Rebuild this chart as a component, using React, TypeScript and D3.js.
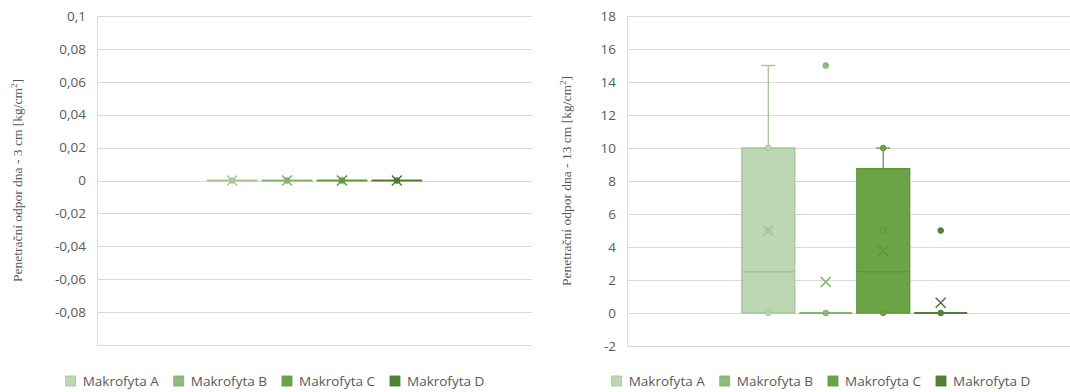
import React, { useEffect, useRef } from "react";
import * as d3 from "d3";

const categories = ["Makrofyta A", "Makrofyta B", "Makrofyta C", "Makrofyta D"];
const fills = ["#bdd6b3", "#8fbb7b", "#6aa444", "#548235"];
const strokes = ["#a4c498", "#7fb06a", "#5e973b", "#4a772f"];

// 3 cm - every sample is 0
const q1_3 = [0, 0, 0, 0];
const median_3 = [0, 0, 0, 0];
const q3_3 = [0, 0, 0, 0];
const whiskerLow_3 = [0, 0, 0, 0];
const whiskerHigh_3 = [0, 0, 0, 0];
const mean_3 = [0, 0, 0, 0];
const inner_3 = [[0], [0], [0], [0]];
const outliers_3: number[][] = [[], [], [], []];
const ticks_3 = [0.1, 0.08, 0.06, 0.04, 0.02, 0, -0.02, -0.04, -0.06, -0.08, -0.1];
const tickLabels_3 = ["0,1", "0,08", "0,06", "0,04", "0,02", "0", "-0,02", "-0,04", "-0,06", "-0,08", ""];

// 13 cm
const q1_13 = [0, 0, 0, 0];
const median_13 = [2.5, 0, 2.5, 0];
const q3_13 = [10, 0, 8.75, 0];
const whiskerLow_13 = [0, 0, 0, 0];
const whiskerHigh_13 = [15, 0, 10, 0];
const mean_13 = [5, 1.875, 3.75, 0.625];
const inner_13 = [[0, 5, 10], [0], [0, 5, 10], [0]];
const outliers_13 = [[], [15], [], [5]];
const ticks_13 = [18, 16, 14, 12, 10, 8, 6, 4, 2, 0, -2];
const tickLabels_13 = ["18", "16", "14", "12", "10", "8", "6", "4", "2", "0", "-2"];

const sans = "'Open Sans', 'Noto Sans', sans-serif";
const textColor = "#595959";

function drawPanel(svg, o) {
  const g = svg.append("g");
  const y = d3.scaleLinear().domain(o.domain).range([o.bottom, o.top]);
  const outer = d3.scaleBand().domain(["g"]).range([o.left, o.right]).paddingOuter(0.51).paddingInner(0);
  const x = d3
    .scaleBand()
    .domain(categories)
    .range([outer("g"), outer("g") + outer.bandwidth()])
    .paddingInner(0.08);

  // gridlines
  g.append("g")
    .selectAll("line")
    .data(o.ticks)
    .enter()
    .append("line")
    .attr("x1", o.left)
    .attr("x2", o.right)
    .attr("y1", (d) => Math.round(y(d)) + 0.5)
    .attr("y2", (d) => Math.round(y(d)) + 0.5)
    .attr("stroke", "#d9d9d9")
    .attr("stroke-width", 1);
  g.append("line")
    .attr("x1", o.left + 0.5)
    .attr("x2", o.left + 0.5)
    .attr("y1", y(o.domain[1]))
    .attr("y2", y(o.domain[0]))
    .attr("stroke", "#d9d9d9");

  g.append("g")
    .selectAll("text")
    .data(o.ticks)
    .enter()
    .append("text")
    .attr("x", o.left - 11)
    .attr("y", (d) => y(d))
    .attr("dy", "0.35em")
    .attr("text-anchor", "end")
    .attr("font-family", sans)
    .attr("font-size", 13.5)
    .attr("fill", textColor)
    .text((d, i) => o.tickLabels[i]);

  // axis title
  const title = g
    .append("text")
    .attr("transform", `translate(${o.titleX}, ${(o.top + o.bottom) / 2}) rotate(-90)`)
    .attr("text-anchor", "middle")
    .attr("dy", "0.35em")
    .attr("font-family", "'Liberation Serif', 'DejaVu Serif', serif")
    .attr("font-size", 13.5)
    .attr("fill", textColor);
  title.append("tspan").text(o.title);
  title.append("tspan").attr("font-size", 9).attr("dy", -5).text("2");
  title.append("tspan").attr("dy", 5).text("]");

  // boxes
  categories.forEach((c, i) => {
    const s = o.stats;
    const x0 = x(c);
    const x1 = x0 + x.bandwidth();
    const cx = x0 + x.bandwidth() / 2;
    const bg = g.append("g");
    const yq1 = y(s.q1[i]);
    const yq3 = y(s.q3[i]);

    // whiskers
    if (s.high[i] > s.q3[i]) {
      bg.append("line").attr("x1", cx).attr("x2", cx).attr("y1", yq3).attr("y2", y(s.high[i])).attr("stroke", strokes[i]).attr("stroke-width", 1.3);
      bg.append("line").attr("x1", cx - 7).attr("x2", cx + 7).attr("y1", y(s.high[i])).attr("y2", y(s.high[i])).attr("stroke", strokes[i]).attr("stroke-width", 1.3);
    }
    if (s.low[i] < s.q1[i]) {
      bg.append("line").attr("x1", cx).attr("x2", cx).attr("y1", yq1).attr("y2", y(s.low[i])).attr("stroke", strokes[i]).attr("stroke-width", 1.3);
      bg.append("line").attr("x1", cx - 7).attr("x2", cx + 7).attr("y1", y(s.low[i])).attr("y2", y(s.low[i])).attr("stroke", strokes[i]).attr("stroke-width", 1.3);
    }

    const p = d3.path();
    p.moveTo(x0, yq3);
    p.lineTo(x1, yq3);
    p.lineTo(x1, yq1);
    p.lineTo(x0, yq1);
    p.closePath();
    bg.append("path").attr("d", p.toString()).attr("fill", fills[i]).attr("stroke", strokes[i]).attr("stroke-width", 1.3);

    bg.append("line")
      .attr("x1", x0)
      .attr("x2", x1)
      .attr("y1", y(s.median[i]))
      .attr("y2", y(s.median[i]))
      .attr("stroke", strokes[i])
      .attr("stroke-width", 1.3);

    bg.selectAll("circle.pt")
      .data(s.inner[i].concat(s.outliers[i]))
      .enter()
      .append("circle")
      .attr("class", "pt")
      .attr("cx", cx)
      .attr("cy", (d) => y(d))
      .attr("r", 2.8)
      .attr("fill", fills[i])
      .attr("stroke", strokes[i])
      .attr("stroke-width", 1);

    const my = y(s.mean[i]);
    const h = 5;
    bg.append("path")
      .attr("d", `M${cx - h},${my - h}L${cx + h},${my + h}M${cx - h},${my + h}L${cx + h},${my - h}`)
      .attr("stroke", strokes[i])
      .attr("stroke-width", 1.5)
      .attr("fill", "none");
  });

  // legend
  const lg = svg.append("g").attr("font-family", sans).attr("font-size", 13.5).attr("fill", textColor);
  const items = categories.map((c, i) => {
    const it = lg.append("g");
    it.append("rect").attr("width", 10).attr("height", 10).attr("y", -5).attr("fill", fills[i]).attr("stroke", strokes[i]).attr("stroke-width", 0.8);
    const t = it.append("text").attr("x", 17).attr("dy", "0.35em").text(c);
    return { it, w: 17 + (t.node() as SVGTextElement).getComputedTextLength() };
  });
  const gap = 15;
  const total = d3.sum(items, (d) => d.w) + gap * (items.length - 1);
  let cur = o.legendCenter - total / 2;
  items.forEach((d) => {
    d.it.attr("transform", `translate(${cur}, ${o.legendY})`);
    cur += d.w + gap;
  });
}

export default function App() {
  const ref = useRef<SVGSVGElement>(null);

  useEffect(() => {
    const svg = d3.select(ref.current);
    svg.selectAll("*").remove();

    drawPanel(svg, {
      left: 97,
      right: 532,
      top: 16,
      bottom: 345,
      domain: [-0.1, 0.1],
      ticks: ticks_3,
      tickLabels: tickLabels_3,
      titleX: 17,
      title: "Penetrační odpor dna - 3 cm [kg/cm",
      legendCenter: 275,
      legendY: 381,
      stats: { q1: q1_3, median: median_3, q3: q3_3, low: whiskerLow_3, high: whiskerHigh_3, mean: mean_3, inner: inner_3, outliers: outliers_3 },
    });

    drawPanel(svg, {
      left: 627,
      right: 1082,
      top: 16,
      bottom: 346,
      domain: [-2, 18],
      ticks: ticks_13,
      tickLabels: tickLabels_13,
      titleX: 566,
      title: "Penetrační odpor dna - 13 cm [kg/cm",
      legendCenter: 821,
      legendY: 381,
      stats: { q1: q1_13, median: median_13, q3: q3_13, low: whiskerLow_13, high: whiskerHigh_13, mean: mean_13, inner: inner_13, outliers: outliers_13 },
    });
  }, []);

  return (
    <svg
      ref={ref}
      width={1070}
      height={392}
      style={{ position: "absolute", left: 0, top: 0, background: "#fff" }}
    ></svg>
  );
}
